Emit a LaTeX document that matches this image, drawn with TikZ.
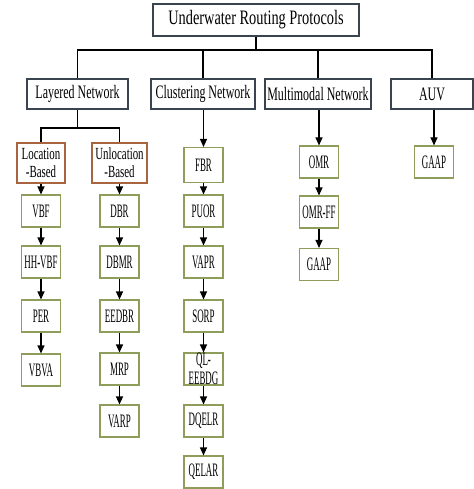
\documentclass[tikz,border=0pt]{standalone}
\usepackage{fontspec}
\newfontfamily\topfont[FakeStretch=0.7]{Liberation Serif}
\newfontfamily\catfont[FakeStretch=0.63]{Liberation Serif}
\newfontfamily\locfont[FakeStretch=0.64]{Liberation Serif}
\newfontfamily\leaffont[FakeStretch=0.47]{Liberation Serif}
\usetikzlibrary{arrows.meta}
\definecolor{framedark}{HTML}{3A4450}
\definecolor{leafgreen}{HTML}{8E9E5A}
\definecolor{locbrown}{HTML}{A8643E}
\tikzset{
  topbox/.style={draw=framedark, line width=1.2pt, fill=white, minimum height=32pt, inner sep=0pt,
    font=\topfont\fontsize{20.5}{22}\selectfont},
  catbox/.style={draw=framedark, line width=1.2pt, fill=white, minimum height=30pt, inner sep=0pt,
    font=\catfont\fontsize{19}{20}\selectfont},
  leafbox/.style={draw=leafgreen, line width=1.1pt, fill=white, minimum width=39pt, minimum height=32pt, inner sep=0pt,
    font=\leaffont\fontsize{19}{18}\selectfont, align=center},
  locbox/.style={draw=locbrown, line width=1.1pt, fill=white, minimum height=40pt, inner sep=0pt,
    font=\locfont\fontsize{17}{18}\selectfont, align=center},
  link/.style={draw=black, line width=1.1pt},
  arr/.style={link, -{Triangle[width=7pt,length=8pt]}}
}
\begin{document}
\begin{tikzpicture}[x=1pt,y=-1pt]
\useasboundingbox (0,0) rectangle (473,489);
% top
\node[topbox, minimum width=206pt] (root) at (256,20) {Underwater Routing Protocols};
% categories
\node[catbox, minimum width=101pt] (lay) at (77.5,94) {Layered Network};
\node[catbox, minimum width=104pt] (clu) at (203,94) {Clustering Network};
\node[catbox, minimum width=106pt] (mul) at (318,94) {Multimodal Network};
\node[catbox, minimum width=82pt] (auv) at (432,94) {AUV};
\coordinate (hub) at (256,50);
\draw[link] (root.south) -- (hub);
\draw[link] (lay.north) |- (hub) -| (auv.north);
\draw[link] (clu.north) -- (clu.north |- hub);
\draw[link] (mul.north) -- (mul.north |- hub);
% layered sub
\node[locbox, minimum width=48pt] (loc) at (41,163) {Location\\-Based};
\node[locbox, minimum width=55pt] (unloc) at (119.5,163) {Unlocation\\-Based};
\coordinate (lsplit) at (77.5,128);
\draw[link] (lay.south) -- (lsplit);
\draw[link] (loc.north) |- (lsplit) -| (unloc.north);
% column A
\node[leafbox] (vbf) at (41,211) {VBF};
\node[leafbox] (hhvbf) at (41,262) {HH-VBF};
\node[leafbox] (per) at (41,316) {PER};
\node[leafbox] (vbva) at (41,370) {VBVA};
\draw[arr] (loc) -- (vbf);
\draw[arr] (vbf) -- (hhvbf);
\draw[arr] (hhvbf) -- (per);
\draw[arr] (per) -- (vbva);
% column B
\node[leafbox] (dbr) at (119.5,211) {DBR};
\node[leafbox] (dbmr) at (119.5,262) {DBMR};
\node[leafbox] (eedbr) at (119.5,316) {EEDBR};
\node[leafbox] (mrp) at (119.5,369) {MRP};
\node[leafbox] (varp) at (119.5,421) {VARP};
\draw[arr] (unloc) -- (dbr);
\draw[arr] (dbr) -- (dbmr);
\draw[arr] (dbmr) -- (eedbr);
\draw[arr] (eedbr) -- (mrp);
\draw[arr] (mrp) -- (varp);
% column C
\node[leafbox, minimum height=35pt] (fbr) at (203.5,165) {FBR};
\node[leafbox] (puor) at (203.5,211) {PUOR};
\node[leafbox] (vapr) at (203.5,262) {VAPR};
\node[leafbox] (sorp) at (203.5,316) {SORP};
\node[leafbox, font=\leaffont\fontsize{19}{19}\selectfont] (ql) at (203.5,369) {QL-\\EEBDG};
\node[leafbox] (dqelr) at (203.5,421) {DQELR};
\node[leafbox] (qelar) at (203.5,472) {QELAR};
\draw[arr] (clu.south -| fbr.north) -- (fbr.north);
\draw[arr] (fbr) -- (puor);
\draw[arr] (puor) -- (vapr);
\draw[arr] (vapr) -- (sorp);
\draw[arr] (sorp) -- (ql);
\draw[arr] (ql) -- (dqelr);
\draw[arr] (dqelr) -- (qelar);
% column D
\node[leafbox] (omr) at (319,162) {OMR};
\node[leafbox] (omrff) at (319,212) {OMR-FF};
\node[leafbox] (gaapm) at (319,264.5) {GAAP};
\draw[arr] (mul.south -| omr.north) -- (omr.north);
\draw[arr] (omr) -- (omrff);
\draw[arr] (omrff) -- (gaapm);
% column E
\node[leafbox] (gaapa) at (434,162) {GAAP};
\draw[arr] (auv.south -| gaapa.north) -- (gaapa.north);
\end{tikzpicture}
\end{document}
